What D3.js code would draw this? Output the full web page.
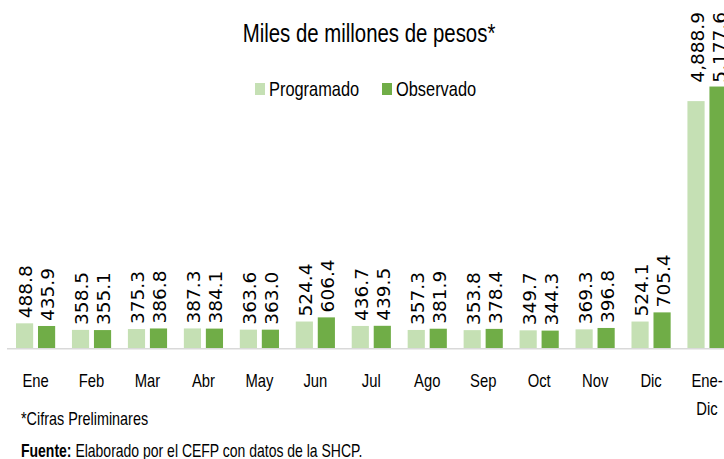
<!DOCTYPE html>
<html>
<head>
<meta charset="utf-8">
<script src="https://cdn.jsdelivr.net/npm/d3@7"></script>
<style>
  html, body { margin: 0; padding: 0; background: #fff; }
  svg { display: block; }
  .cond { font-family: "Liberation Sans", Arial, sans-serif; fill: #000; }
  .val { font-family: "DejaVu Sans", Verdana, sans-serif; font-size: 18.5px; fill: #000; }
</style>
</head>
<body>
<svg id="chart" width="724" height="459"></svg>
<script>
// Data
const months = ["Ene", "Feb", "Mar", "Abr", "May", "Jun", "Jul", "Ago", "Sep", "Oct", "Nov", "Dic", "Ene-Dic"];
const programado = [488.8, 358.5, 375.3, 387.3, 363.6, 524.4, 436.7, 357.3, 353.8, 349.7, 369.3, 524.1, 4888.9];
const observado  = [435.9, 355.1, 386.8, 384.1, 363.0, 606.4, 439.5, 381.9, 378.4, 344.3, 396.8, 705.4, 5177.6];
const seriesNames = ["Programado", "Observado"];
const colors = ["#C5E0B4", "#70AD47"];

const svg = d3.select("#chart");
const W = 724, H = 459;

const baseY = 348;
const x = d3.scaleBand().domain(months).range([7.6, 735]).paddingInner(0.3).paddingOuter(0.15);
const xs = d3.scaleBand().domain(seriesNames).range([0, x.bandwidth()]).paddingInner(0.22);
const y = d3.scaleLinear().domain([0, 6000]).range([baseY, 45]);

const rows = months.map((m, i) => ({ m, vals: [programado[i], observado[i]] }));
const fmt = d3.format(",.1f");

// narrow (Calibri-like) text: regular sans squeezed horizontally
function condText(parent, px, py, size, k, anchor) {
  return parent.append("text").attr("class", "cond")
    .attr("text-anchor", anchor || "start")
    .attr("transform", `translate(${px},${py}) scale(${k},1)`)
    .style("font-size", size + "px");
}

// Title
condText(svg, 369, 42, 26.5, 0.77, "middle").text("Miles de millones de pesos*");

// Legend
const legX = [255, 382];
seriesNames.forEach((s, i) => {
  svg.append("rect").attr("x", legX[i]).attr("y", 83).attr("width", 10).attr("height", 12).attr("fill", colors[i]);
  condText(svg, legX[i] + 14, 96, 20, 0.82).text(s);
});

// Bars
const groups = svg.append("g").selectAll("g.grp")
  .data(rows).join("g").attr("class", "grp")
  .attr("transform", d => `translate(${x(d.m)},0)`);

groups.selectAll("rect")
  .data(d => d.vals.map((v, j) => ({ s: seriesNames[j], v, j })))
  .join("rect")
  .attr("x", d => xs(d.s))
  .attr("y", d => y(d.v))
  .attr("width", xs.bandwidth())
  .attr("height", d => baseY - y(d.v))
  .attr("fill", d => colors[d.j]);

// Axis baseline
svg.append("line")
  .attr("x1", 7).attr("x2", W).attr("y1", baseY + 0.75).attr("y2", baseY + 0.75)
  .attr("stroke", "#d9d9d9").attr("stroke-width", 1.5);

// Value labels (rotated), clamped to top of chart area like Excel
groups.each(function(d) {
  const g = d3.select(this);
  const labels = d.vals.map((v, j) => {
    const t = g.append("text").attr("class", "val")
      .attr("text-anchor", "start")
      .attr("dy", "0.36em")
      .text(v >= 1000 ? fmt(v) : v.toFixed(1));
    return { t, v, j, len: t.node().getComputedTextLength() };
  });
  let clamp = false;
  labels.forEach(l => { l.y0 = y(l.v) - 5; if (l.y0 - l.len < 12) clamp = true; });
  const maxLen = d3.max(labels, l => l.len);
  labels.forEach(l => {
    const yy = clamp ? 12 + maxLen : l.y0;
    const cx = xs(seriesNames[l.j]) + xs.bandwidth() / 2 + 1;
    l.t.attr("transform", `translate(${cx},${yy}) rotate(-90)`);
  });
});

// X axis labels
const xg = svg.append("g");
months.forEach(m => {
  const parts = m.includes("-") ? [m.split("-")[0] + "-", m.split("-")[1]] : [m];
  const t = condText(xg, x(m) + x.bandwidth() / 2, 387, 18.5, 0.8, "middle");
  t.selectAll("tspan").data(parts).join("tspan")
    .attr("x", 0).attr("dy", (p, i) => i === 0 ? 0 : 28).text(p => p);
});

// Notes
condText(svg, 21, 425, 18, 0.8).text("*Cifras Preliminares");
const src = condText(svg, 21, 457, 17.5, 0.8);
src.append("tspan").style("font-weight", "bold").text("Fuente:");
src.append("tspan").text(" Elaborado por el CEFP con datos de la SHCP.");
</script>
</body>
</html>
